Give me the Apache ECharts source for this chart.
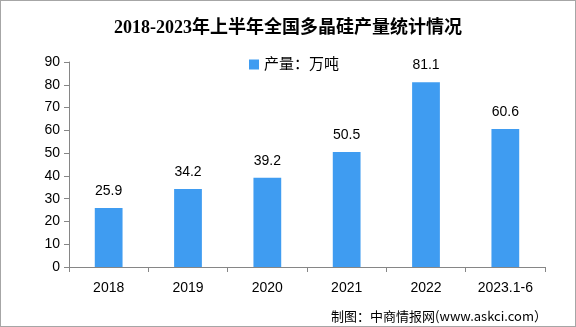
<!DOCTYPE html>
<html>
<head>
<meta charset="utf-8">
<script src="https://cdn.jsdelivr.net/npm/echarts@6/dist/echarts.min.js"></script>
<style>
  html, body { margin: 0; padding: 0; background: #fff; }
  #chart { width: 576px; height: 327px; box-sizing: border-box; border: 1px solid #a6a6a6; }
</style>
</head>
<body>
<div id="chart"></div>
<script>
// 2018–2023 H1 national polysilicon output (10k tonnes)
const categories = ['2018', '2019', '2020', '2021', '2022', '2023.1-6'];
const output = [25.9, 34.2, 39.2, 50.5, 81.1, 60.6];
const yTicks = { min: 0, max: 90, interval: 10 };

const chart = echarts.init(document.getElementById('chart'), null, { renderer: 'canvas' });
const axisGray = '#868686';
const textFont = '"Liberation Sans", "Noto Sans CJK SC", sans-serif';

chart.setOption({
  animation: false,
  title: {
    text: '2018-2023年上半年全国多晶硅产量统计情况',
    left: 'center',
    top: 13,
    textStyle: {
      fontFamily: '"Liberation Serif", "Noto Sans CJK SC", serif',
      fontSize: 18,
      fontWeight: 'bold',
      color: '#000'
    }
  },
  legend: {
    data: ['产量：万吨'],
    top: 51,
    left: 243,
    itemWidth: 10,
    itemHeight: 10,
    itemGap: 4,
    icon: 'rect',
    textStyle: { fontFamily: textFont, fontSize: 15, color: '#000' }
  },
  graphic: [{
    type: 'text',
    right: 28,
    top: 309,
    style: {
      text: '制图：中商情报网(www.askci.com）',
      font: '13px "Noto Sans CJK SC", sans-serif',
      fill: '#000'
    }
  }],
  grid: { left: 68, right: 30, top: 61, bottom: 59, containLabel: false },
  xAxis: {
    type: 'category',
    data: categories,
    axisLine: { lineStyle: { color: axisGray } },
    axisTick: { show: true, alignWithLabel: false, length: 5, lineStyle: { color: axisGray } },
    axisLabel: { color: '#000', fontFamily: textFont, fontSize: 14, margin: 14 }
  },
  yAxis: {
    type: 'value',
    min: yTicks.min,
    max: yTicks.max,
    interval: yTicks.interval,
    splitLine: { show: false },
    axisLine: { show: true, lineStyle: { color: axisGray } },
    axisTick: { show: true, length: 5, lineStyle: { color: axisGray } },
    axisLabel: { color: '#000', fontFamily: textFont, fontSize: 14, margin: 9 }
  },
  series: [{
    name: '产量：万吨',
    type: 'bar',
    data: output,
    barWidth: '35%',
    itemStyle: { color: '#3f9cf1' },
    label: {
      show: true,
      position: 'top',
      distance: 10,
      color: '#000',
      fontFamily: textFont,
      fontSize: 14
    }
  }]
});
</script>
</body>
</html>
